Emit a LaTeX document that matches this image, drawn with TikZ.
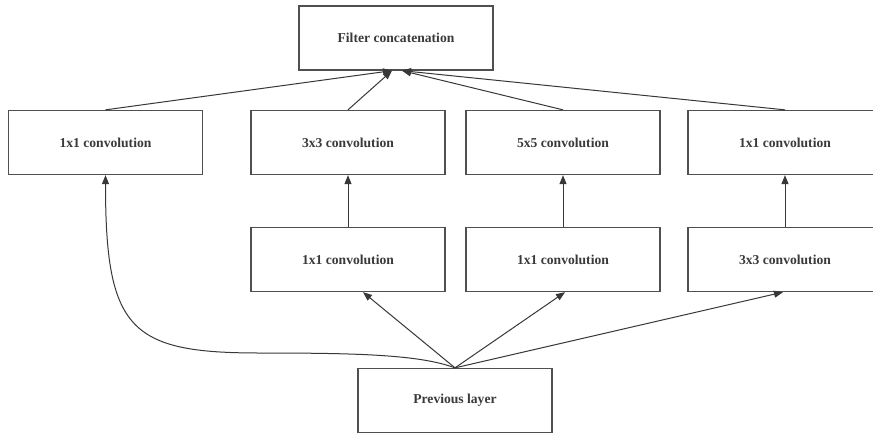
\documentclass[tikz,border=0pt]{standalone}
\usepackage{fontspec}
\setmainfont{Liberation Serif}
\usetikzlibrary{arrows.meta}
\definecolor{boxline}{HTML}{505050}
\definecolor{arrline}{HTML}{383838}
\definecolor{txt}{HTML}{3A3A3A}
\begin{document}
\begin{tikzpicture}[x=1pt,y=-1pt,
  layer/.style={draw=boxline, line width=1.3pt, fill=white, minimum width=194pt,
    minimum height=64pt, inner sep=0pt, text=txt,
    font=\fontsize{13.6}{16}\selectfont\bfseries},
  arr/.style={draw=arrline, line width=1pt,
    -{Triangle[length=9pt,width=7pt]}}]
\useasboundingbox (0,0) rectangle (873,434);
\clip (0,0) rectangle (873,434);
\fill[white] (0,0) rectangle (873,434);

% output and input
\node[layer] (fc)   at (396,38)    {Filter concatenation};
\node[layer] (prev) at (455,400.5) {Previous layer};

% upper row of branches
\node[layer] (c1) at (105.5,142.5) {1x1 convolution};
\node[layer] (c2) at (348,142.5)   {3x3 convolution};
\node[layer] (c3) at (563,142.5)   {5x5 convolution};
\node[layer] (c4) at (785,142.5)   {1x1 convolution};

% lower row of branches
\node[layer] (r2) at (348,259.5) {1x1 convolution};
\node[layer] (r3) at (563,259.5) {1x1 convolution};
\node[layer] (r4) at (785,259.5) {3x3 convolution};

% branches into the concatenation
\draw[arr] (c1.north) -- ([xshift=-4]fc.south);
\draw[arr] (c2.north) -- ([xshift=-4]fc.south);
\draw[arr] (c3.north) -- ([xshift=6]fc.south);
\draw[arr] (c4.north) -- ([xshift=6]fc.south);

% lower row into upper row
\draw[arr] (r2.north) -- (c2.south);
\draw[arr] (r3.north) -- (c3.south);
\draw[arr] (r4.north) -- (c4.south);

% previous layer into every branch
\draw[arr] (prev.north) -- ([xshift=15]r2.south);
\draw[arr] (prev.north) -- ([xshift=2]r3.south);
\draw[arr] (prev.north) -- ([xshift=-2]r4.south);
\coordinate (bend) at (260,353);
\draw[arr] (prev.north) .. controls +(-35,-13) and +(100,0) .. (bend)
  .. controls +(-130,0) and +(0,155) .. (c1.south);
\end{tikzpicture}
\end{document}
